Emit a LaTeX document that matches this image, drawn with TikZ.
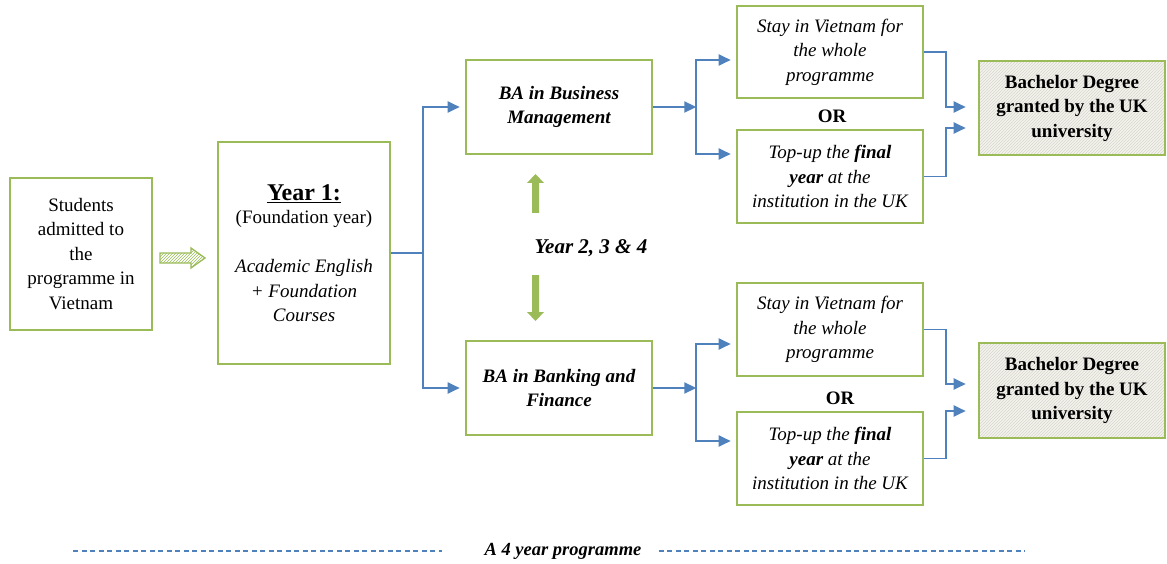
\documentclass[tikz,border=0pt]{standalone}
\usepackage{fontspec}
\setmainfont{Liberation Serif}
\usetikzlibrary{arrows.meta,patterns,calc}
\definecolor{boxgreen}{HTML}{9BBB59}
\definecolor{linkblue}{HTML}{4F81BD}
\definecolor{paper}{HTML}{F4F3EE}
\definecolor{hatchgrey}{HTML}{D9D7CC}

\begin{document}
\begin{tikzpicture}[x=1pt,y=-1pt,
  box/.style={draw=boxgreen,line width=2.6pt,rectangle,align=center,inner sep=0pt,
    font=\fontsize{19}{24.5}\selectfont},
  degree/.style={box,preaction={fill=paper},pattern=north east lines,pattern color=hatchgrey,
    font=\fontsize{19}{24.5}\selectfont\bfseries},
  choice/.style={box,minimum width=186pt,font=\fontsize{19}{24.5}\selectfont\itshape},
  link/.style={draw=linkblue,line width=1.9pt,-{Triangle[length=12pt,width=11pt]},shorten >=5pt},
  plain/.style={draw=linkblue,line width=1.9pt},
  orlabel/.style={font=\fontsize{19}{22}\selectfont\bfseries,inner sep=0pt},
  greenarrow/.style={fill=boxgreen,draw=none},
  period/.style={draw=linkblue,line width=1.4pt,dash pattern=on 5pt off 3.5pt}]
\useasboundingbox (0,0) rectangle (1167,564);

% --- boxes -------------------------------------------------------------
\node[box,minimum width=142pt,minimum height=152pt] (stu) at (81,254)
  {Students\\admitted to\\the\\programme in\\Vietnam};

\node[box,minimum width=172pt,minimum height=222pt] (y1) at (304,253)
  {{\fontsize{24}{28}\selectfont\bfseries\underline{Year 1:}}\\[-1pt]
   (Foundation year)\\[24.5pt]
   \itshape Academic English\\ \itshape + Foundation\\ \itshape Courses};

\node[box,minimum width=186pt,minimum height=94pt,font=\fontsize{19}{24.5}\selectfont\bfseries\itshape]
  (bm) at (559,107) {BA in Business\\Management};
\node[box,minimum width=186pt,minimum height=94pt,font=\fontsize{19}{24.5}\selectfont\bfseries\itshape]
  (bf) at (559,388) {BA in Banking and\\Finance};

\node[choice,minimum height=92pt] (s1) at (830,52)
  {Stay in Vietnam for\\the whole\\programme};
\node[choice,minimum height=93pt] (t1) at (830,176.5)
  {Top-up the \textbf{final}\\\textbf{year} at the\\institution in the UK};
\node[choice,minimum height=93pt] (s2) at (830,329.5)
  {Stay in Vietnam for\\the whole\\programme};
\node[choice,minimum height=93pt] (t2) at (830,458.5)
  {Top-up the \textbf{final}\\\textbf{year} at the\\institution in the UK};

\node[orlabel] (or1) at (832,116) {OR};
\node[orlabel] (or2) at (840,398) {OR};

\node[degree,minimum width=186pt,minimum height=94pt] (d1) at (1072,108)
  {Bachelor Degree\\granted by the UK\\university};
\node[degree,minimum width=186pt,minimum height=95pt] (d2) at (1072,390.5)
  {Bachelor Degree\\granted by the UK\\university};

% --- hatched arrow from the admission box to year 1 ----------------------
\path[draw=boxgreen,line width=1.3pt,preaction={fill=white},pattern=north east lines,pattern color=boxgreen]
  (160,253) -- (191,253) -- (191,248) -- (205,258) -- (191,268) -- (191,263) -- (160,263) -- cycle;

% --- connectors ----------------------------------------------------------
\coordinate (j0) at (423,253);
\draw[plain] (y1.east) -- (j0);
\draw[link] (j0) |- (bm.west);
\draw[link] (j0) |- (bf.west);

\path (bm.east) ++(43,0) coordinate (j1);
\draw[link,shorten >=0pt] (bm.east) -- (j1);
\draw[link] (j1) |- ($(s1.west)+(0,8)$);
\draw[link] (j1) |- ($(t1.west)+(0,-22.5)$);

\path (bf.east) ++(43,0) coordinate (j2);
\draw[link,shorten >=0pt] (bf.east) -- (j2);
\draw[link] (j2) |- ($(s2.west)+(0,14.5)$);
\draw[link] (j2) |- ($(t2.west)+(0,-17.5)$);

\draw[link,shorten >=12pt] (s1.east) -- ++(22,0) |- ($(d1.west)+(0,-1)$);
\draw[link,shorten >=12pt] (t1.east) -- ++(22,0) |- ($(d1.west)+(0,20)$);
\draw[link,shorten >=12pt] (s2.east) -- ++(22,0) |- ($(d2.west)+(0,-6.5)$);
\draw[link,shorten >=12pt] (t2.east) -- ++(22,0) |- ($(d2.west)+(0,20.5)$);

% --- years 2 to 4 ----------------------------------------------------------
\node[font=\fontsize{21}{24}\selectfont\bfseries\itshape,inner sep=0pt] (yrs) at (591,248) {Year 2, 3 \& 4};
\fill[greenarrow] (532,213) -- (532,183) -- (527,183) -- (535.5,174) -- (544,183) -- (539,183) -- (539,213) -- cycle;
\fill[greenarrow] (532,275) -- (532,312) -- (527,312) -- (535.5,321) -- (544,312) -- (539,312) -- (539,275) -- cycle;

% --- programme length --------------------------------------------------------
\node[font=\fontsize{18.5}{22}\selectfont\bfseries\itshape,inner sep=0pt] (len) at (563,551) {A 4 year programme};
\coordinate (la) at (73,551);
\coordinate (rb) at (1025,551);
\draw[period] (la) -- ($(len.west)+(-42,0)$);
\draw[period] ($(len.east)+(17,0)$) -- (rb);
\end{tikzpicture}
\end{document}
